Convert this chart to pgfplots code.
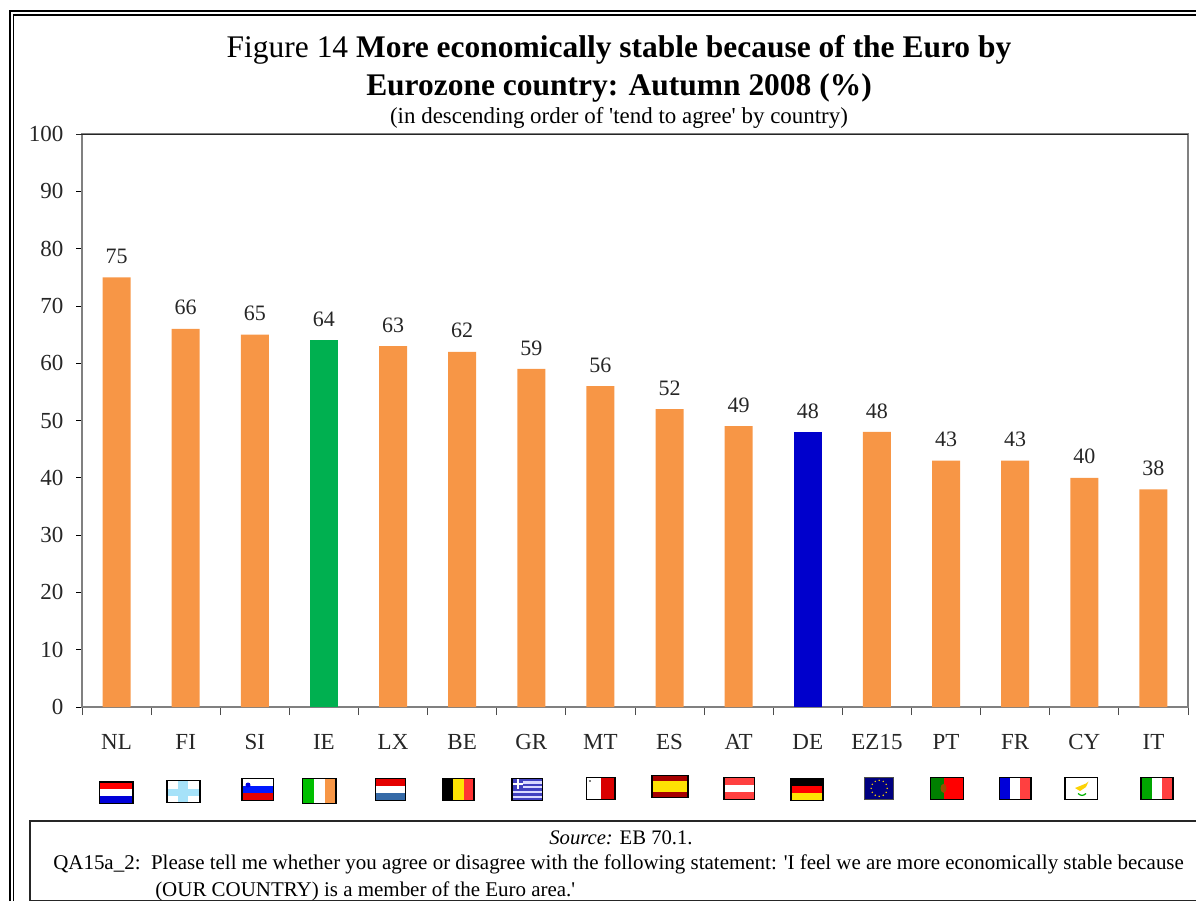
\documentclass[border=0pt]{standalone}
\usepackage{fontspec}
\setmainfont{Liberation Serif}
\usepackage{pgfplots}
\pgfplotsset{compat=1.18}
\definecolor{barorange}{HTML}{F79646}
\definecolor{bargreen}{HTML}{00B050}
\definecolor{barblue}{HTML}{0000CC}
\definecolor{axisgray}{HTML}{808080}
\newcommand{\fs}[1]{\fontsize{#1}{#1}\selectfont}
% three horizontal stripes: x1 y1 x2 y2 col col col
\newcommand{\hflag}[7]{%
  \fill[#5] (#1,#2) rectangle (#3,{#2+(#4-#2)/3});
  \fill[#6] (#1,{#2+(#4-#2)/3}) rectangle (#3,{#2+2*(#4-#2)/3});
  \fill[#7] (#1,{#2+2*(#4-#2)/3}) rectangle (#3,#4);
  \draw[line width=1.1pt] (#1,#2) rectangle (#3,#4);}
% three vertical stripes
\newcommand{\vflag}[7]{%
  \fill[#5] (#1,#2) rectangle ({#1+(#3-#1)/3},#4);
  \fill[#6] ({#1+(#3-#1)/3},#2) rectangle ({#1+2*(#3-#1)/3},#4);
  \fill[#7] ({#1+2*(#3-#1)/3},#2) rectangle (#3,#4);
  \draw[line width=1.1pt] (#1,#2) rectangle (#3,#4);}
\begin{document}
\begin{tikzpicture}[x=0.75pt,y=-0.75pt]
\useasboundingbox (0,0) rectangle (1196,901);
\begin{axis}[
  at={(61.5pt,-530.25pt)}, anchor=south west,
  scale only axis, width=829.5pt, height=429.75pt,
  ybar, bar shift=0pt, bar width=21pt,
  xmin=-0.5, xmax=15.5, ymin=0, ymax=100,
  ytick={0,10,...,100},
  xtick={0,...,15},
  xticklabels={NL,FI,SI,IE,LX,BE,GR,MT,ES,AT,DE,EZ15,PT,FR,CY,IT},
  minor xtick={-0.5,0.5,...,15.5},
  tick align=outside, tick pos=left,
  major tick length=4.5pt, minor tick length=6pt,
  major x tick style={draw=none},
  minor x tick style={draw=black!70, line width=0.6pt},
  y tick style={black, line width=0.6pt},
  axis line style={axisgray, line width=0.9pt},
  /pgf/number format/assume math mode=true,
  tick label style={font=\fs{17.25}, text=black!85},
  yticklabel style={xshift=-6pt},
  xticklabel style={yshift=-12.25pt},
  nodes near coords,
  every node near coord/.append style={font=\fs{16.5}, text=black!85, yshift=6.75pt},
]
\addplot[fill=barorange, draw=none] coordinates {
  (0,75) (1,66) (2,65) (4,63) (5,62) (6,59) (7,56) (8,52) (9,49)
  (11,48) (12,43) (13,43) (14,40) (15,38)};
\addplot[fill=bargreen, draw=none] coordinates {(3,64)};
\addplot[fill=barblue, draw=none] coordinates {(10,48)};
\end{axis}
% top edge of the plot area is darker than the rest
\draw[black!85, line width=0.7pt] (76,134) -- (1188,134);

% titles
\node[anchor=center] at (619,50) {\fs{23.6}Figure 14 \textbf{More economically stable because of the Euro by}};
\node[anchor=center] at (619,88) {\fs{23.6}\textbf{Eurozone country: Autumn 2008 (\%)}};
\node[anchor=center] at (619,118) {\fs{17.2}(in descending order of \textquotesingle tend to agree\textquotesingle{} by country)};

% outer frame, double line, cropped on the right and at the bottom
\draw[line width=2pt] (10,901) -- (10,11) -- (1196,11);
\draw[line width=0.8pt] (13.5,901) -- (13.5,15) -- (1196,15);

% source box
\draw[black!85, line width=1.1pt] (1196,821) -- (30,821) -- (30,900.5) -- (1196,900.5);
\node[anchor=center] at (621,838) {\fs{15.5}\textit{Source:} EB 70.1.};
\node[anchor=base west, inner sep=0pt] at (53,869) {\fs{15.72}QA15a\_2:\ \ Please tell me whether you agree or disagree with the following statement: \textquotesingle I feel we are more economically stable because};
\node[anchor=base west, inner sep=0pt] at (155,896) {\fs{15.72}(OUR COUNTRY) is a member of the Euro area.\textquotesingle};

% flags
\hflag{99.5}{782}{132.8}{803.7}{red}{white}{blue!85!black}
% Finland
\fill[white] (167.2,780.3) rectangle (199.8,802.3);
\fill[cyan!35] (178,780.3) rectangle (187.5,802.3);
\fill[cyan!35] (167.2,789) rectangle (199.8,796);
\draw[line width=1.1pt] (167.2,780.3) rectangle (199.8,802.3);
% Slovenia
\hflag{241.9}{778.7}{273.6}{800.7}{white}{blue!90!cyan}{red!90!black}
\fill[blue!90!black] (248,785) circle (2.5);
\draw[line width=1.1pt] (241.9,778.7) rectangle (273.6,800.7);
\vflag{302.7}{778.7}{336}{803.3}{green!75!black}{white}{barorange}
\hflag{375.4}{778.7}{405.7}{800.7}{red!90!black}{white}{cyan!50!blue!80!black}
\vflag{443.2}{778.7}{473.8}{800.7}{black}{yellow!85!orange}{red!80!white}
% Greece
\fill[blue!50!gray] (512,778.7) rectangle (542.7,800.7);
\foreach \s in {1,3,5,7} \fill[white!85!blue] (512,{778.7+\s*2.44}) rectangle (542.7,{778.7+(\s+1)*2.44});
\fill[blue!50!gray] (512,778.7) rectangle (523,789);
\fill[white] (516.5,778.7) rectangle (518.5,789);
\fill[white] (512,783) rectangle (523,785);
\draw[line width=1.1pt] (512,778.7) rectangle (542.7,800.7);
% Malta
\fill[white] (586.3,777.3) rectangle (600.5,799.3);
\fill[red!85!black] (600.5,777.3) rectangle (615,799.3);
\fill[gray] (588.5,779.5) rectangle (591,782);
\draw[line width=1.1pt] (586.3,777.3) rectangle (615,799.3);
% Spain
\fill[red!65!black] (651.9,775.7) rectangle (688.2,797.3);
\fill[yellow!85!orange] (651.9,781) rectangle (688.2,792);
\draw[line width=1.1pt] (651.9,775.7) rectangle (688.2,797.3);
\hflag{723.8}{777.3}{754.4}{799.3}{red!75!white}{white}{red!75!white}
\hflag{791.2}{778.7}{823}{800.7}{black}{red}{yellow!85!orange}
% EU
\fill[blue!50!black] (864.7,777.3) rectangle (893.7,799.3);
\foreach \a in {0,30,...,330} \fill[yellow!70!orange] ({879.2+8*cos(\a)},{788.3+8*sin(\a)}) circle (0.8);
\draw[black!70, line width=1.1pt] (864.7,777.3) rectangle (893.7,799.3);
% Portugal
\fill[green!50!black] (930.5,777.3) rectangle (943.5,799.3);
\fill[red] (943.5,777.3) rectangle (963.4,799.3);
\fill[orange!60!black] (943.5,788.3) ellipse (3 and 4.5);
\draw[line width=1.1pt] (930.5,777.3) rectangle (963.4,799.3);
\vflag{999.4}{777.3}{1031}{799.3}{blue!85!black}{white}{red!75!white}
% Cyprus
\fill[white] (1065.2,777.3) rectangle (1097.7,799.3);
\fill[yellow!70!orange] (1075,788) -- (1086,783.5) -- (1088.5,781.5) -- (1086,787) -- (1080,791) -- cycle;
\draw[green!70!black, line width=0.9pt] (1078,793.5) .. controls (1081,796) and (1083,796) .. (1086,793.5);
\draw[line width=1.1pt] (1065.2,777.3) rectangle (1097.7,799.3);
\vflag{1141}{777.3}{1173}{799.3}{green!65!black}{white}{red!75!white}
\end{tikzpicture}
\end{document}
